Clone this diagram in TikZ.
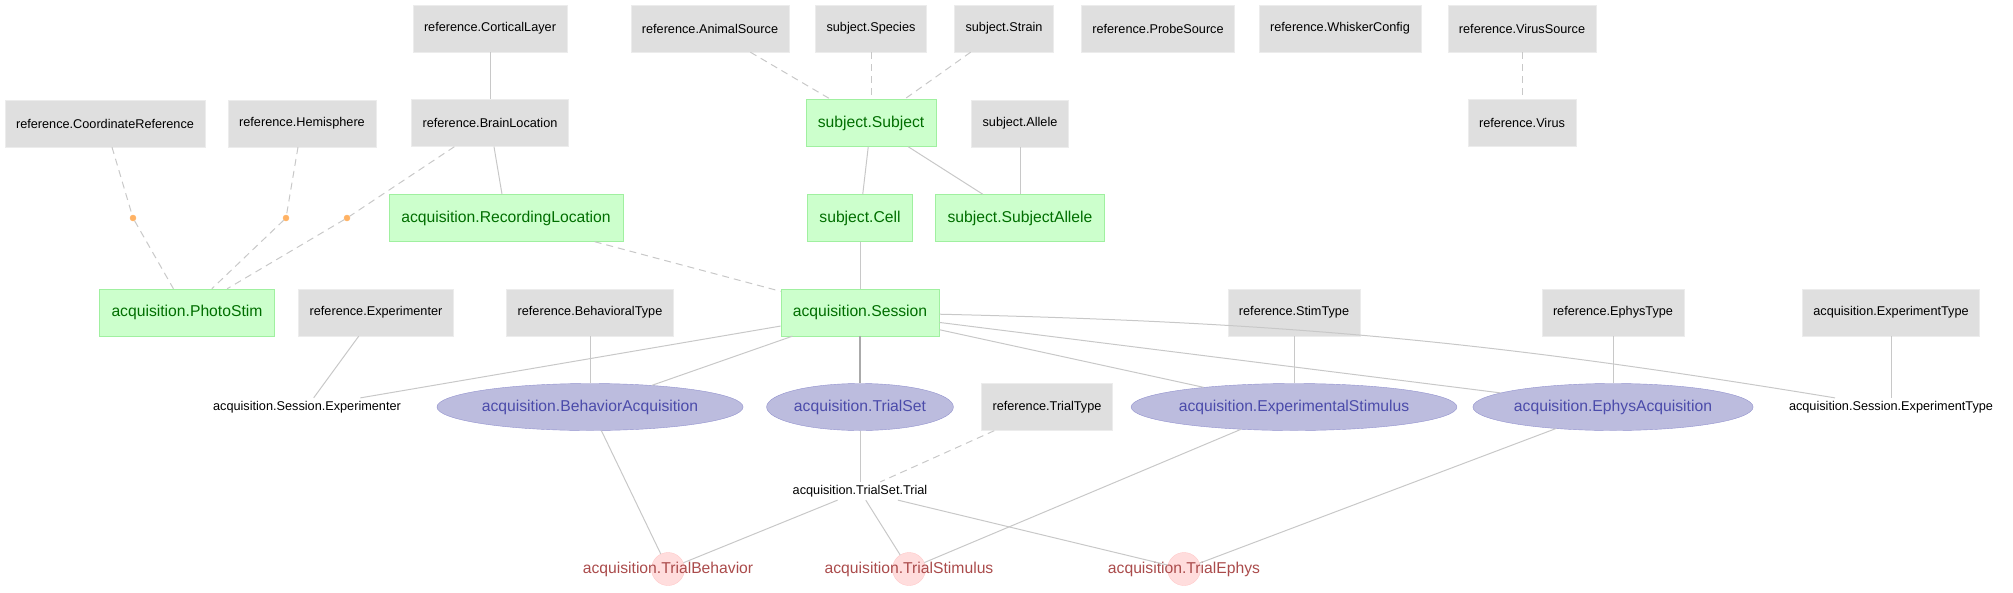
\documentclass[tikz,border=0pt]{standalone}
\usepackage{fontspec}
\setmainfont{Liberation Sans}
\usepackage{tikz}
\usetikzlibrary{shapes.geometric}
\definecolor{lookupfill}{RGB}{223,223,223}
\definecolor{manualfill}{RGB}{204,255,204}
\definecolor{manualline}{RGB}{160,240,160}
\definecolor{manualtext}{RGB}{0,110,0}
\definecolor{importfill}{RGB}{188,188,222}
\definecolor{importline}{RGB}{145,145,205}
\definecolor{importtext}{RGB}{75,75,170}
\definecolor{compfill}{RGB}{255,221,221}
\definecolor{compline}{RGB}{255,200,200}
\definecolor{comptext}{RGB}{170,75,75}
\definecolor{aliasdot}{RGB}{255,178,100}
\definecolor{linkgray}{RGB}{200,200,200}

\begin{document}
\begin{tikzpicture}[x=1pt, y=-1pt, node distance=94.5pt,
  lookup/.style = {fill=lookupfill, draw=lookupfill!60!white, font=\fontsize{12.7}{14}\selectfont, minimum height=47pt, inner xsep=11pt},
  manual/.style = {fill=manualfill, draw=manualline, text=manualtext, font=\fontsize{15.7}{17}\selectfont, minimum height=47pt, inner xsep=12pt},
  imported/.style = {ellipse, fill=importfill, draw=importline, text=importtext, font=\fontsize{15.7}{17}\selectfont, minimum height=47pt, inner xsep=0pt},
  computed/.style = {circle, fill=compfill, draw=compline, minimum size=33pt, inner sep=0pt},
  ctext/.style = {text=comptext, font=\fontsize{15.7}{17}\selectfont},
  part/.style = {font=\fontsize{12.7}{14}\selectfont, inner sep=3pt},
  alias/.style = {circle, fill=aliasdot, draw=aliasdot, minimum size=6pt, inner sep=0pt},
  link/.style = {draw=linkgray, line width=1pt},
  sec/.style = {link, dash pattern=on 7pt off 5pt},
  idlink/.style = {draw=linkgray!85!black, line width=2pt}]
\useasboundingbox (0,0) rectangle (2013,592);
\node[lookup] (cortical) at (490,28.5) {reference.CorticalLayer};
\node[lookup] (animalsrc) at (710,28.5) {reference.AnimalSource};
\node[lookup] (species) at (871,28.5) {subject.Species};
\node[lookup] (strain) at (1004,28.5) {subject.Strain};
\node[lookup] (probesrc) at (1158,28.5) {reference.ProbeSource};
\node[lookup] (whisker) at (1340,28.5) {reference.WhiskerConfig};
\node[lookup] (virussrc) at (1522,28.5) {reference.VirusSource};
\node[lookup] (coordref) at (105,123.5) {reference.CoordinateReference};
\node[lookup] (hemi) at (302,123.5) {reference.Hemisphere};
\node[lookup] (brainloc) [below of=cortical] {reference.BrainLocation};
\node[manual] (subject) [below of=species] {subject.Subject};
\node[lookup] (allele) at (1020,123.5) {subject.Allele};
\node[lookup] (virus) [below of=virussrc] {reference.Virus};
\node[alias] (d1) at (133,218) {};
\node[alias] (d2) at (286,218) {};
\node[alias] (d3) at (347,218) {};
\node[manual] (recloc) at (506,218) {acquisition.RecordingLocation};
\node[manual] (cell) at (860,218) {subject.Cell};
\node[manual] (subjallele) [below of=allele] {subject.SubjectAllele};
\node[manual] (photostim) at (187,312.5) {acquisition.PhotoStim};
\node[lookup] (experimenter) at (376,312.5) {reference.Experimenter};
\node[lookup] (behtype) at (590,312.5) {reference.BehavioralType};
\node[manual] (session) [below of=cell] {acquisition.Session};
\node[lookup] (stimtype) at (1294,312.5) {reference.StimType};
\node[lookup] (ephystype) at (1613,312.5) {reference.EphysType};
\node[lookup] (exptype) at (1891,312.5) {acquisition.ExperimentType};
\node[part] (sessexp) at (307,407) {acquisition.Session.Experimenter};
\node[imported] (behacq) [below of=behtype] {acquisition.BehaviorAcquisition};
\node[imported] (trialset) [below of=session] {acquisition.TrialSet};
\node[lookup] (trialtype) at (1047,407) {reference.TrialType};
\node[imported] (expstim) [below of=stimtype] {acquisition.ExperimentalStimulus};
\node[imported] (ephysacq) [below of=ephystype] {acquisition.EphysAcquisition};
\node[part] (sessexptype) [below of=exptype] {acquisition.Session.ExperimentType};
\node[part] (trial) at (860,491) {acquisition.TrialSet.Trial};
\node[computed, label={[ctext]center:acquisition.TrialBehavior}] (trialbeh) at (668,569) {};
\node[computed, label={[ctext]center:acquisition.TrialStimulus}] (trialstim) at (909,569) {};
\node[computed, label={[ctext]center:acquisition.TrialEphys}] (trialephys) at (1184,569) {};
\draw[link] (cortical) -- (brainloc);
\draw[link] (brainloc) -- (recloc);
\draw[sec] (animalsrc) -- (subject);
\draw[sec] (species) -- (subject);
\draw[sec] (strain) -- (subject);
\draw[sec] (virussrc) -- (virus);
\draw[link] (subject) -- (cell);
\draw[link] (subject) -- (subjallele);
\draw[link] (allele) -- (subjallele);
\draw[sec] (coordref) -- (d1) -- (photostim);
\draw[sec] (hemi) -- (d2) -- (photostim);
\draw[sec] (brainloc) -- (d3) -- (photostim);
\draw[sec] (recloc) -- (session);
\draw[link] (cell) -- (session);
\draw[link] (experimenter) -- (sessexp);
\draw[link] (session) -- (sessexp);
\draw[link] (behtype) -- (behacq);
\draw[link] (session) -- (behacq);
\draw[idlink] (session) -- (trialset);
\draw[link] (session) -- (expstim);
\draw[link] (session) -- (ephysacq);
\draw[link] (session) to[bend left=4] (sessexptype);
\draw[link] (stimtype) -- (expstim);
\draw[link] (ephystype) -- (ephysacq);
\draw[link] (exptype) -- (sessexptype);
\draw[link] (trialset) -- (trial);
\draw[sec] (trialtype) -- (trial);
\draw[link] (trial) -- (trialbeh);
\draw[link] (trial) -- (trialstim);
\draw[link] (trial) -- (trialephys);
\draw[link] (behacq) -- (trialbeh);
\draw[link] (expstim) -- (trialstim);
\draw[link] (ephysacq) -- (trialephys);
\end{tikzpicture}
\end{document}
